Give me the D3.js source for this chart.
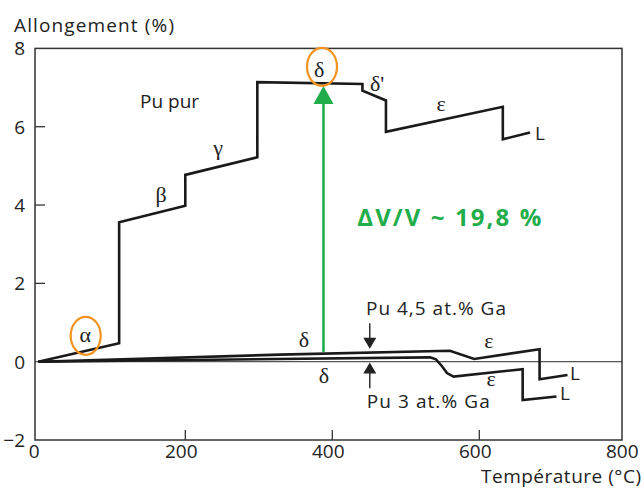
<!DOCTYPE html>
<html lang="fr">
<head>
    <meta charset="UTF-8">
    <title>Allongement du plutonium</title>
    <script src="https://d3js.org/d3.v7.min.js"></script>
    <style>
        body { margin: 0; background: #fff; }
        svg { font-family: "Open Sans", sans-serif; }
        .curve { fill: none; stroke: #1a1a1a; stroke-width: 2.6; stroke-linejoin: miter; }
        .tick-label { font-size: 19px; fill: #222; }
        .greek { font-family: "Liberation Serif", serif; font-size: 22px; fill: #222; }
        .note { font-size: 19px; fill: #222; }
    </style>
</head>
<body>
    <svg width="644" height="488"></svg>
    <script>
        // Pu pur (temperature °C, elongation %)
        const puPurT = [0, 110, 110, 200, 200, 298, 298, 441, 441, 473, 473, 632, 632, 669];
        const puPurA = [0, 0.47, 3.56, 3.98, 4.77, 5.22, 7.14, 7.09, 6.92, 6.67, 5.87, 6.51, 5.68, 5.85];

        // Pu 4,5 at.% Ga
        const pu45T = [0, 329, 560, 593, 682, 682, 720];
        const pu45A = [0, 0.18, 0.28, 0.07, 0.32, -0.45, -0.34];

        // Pu 3 at.% Ga
        const pu3T = [0, 533, 541, 549, 556, 565, 659, 659, 705];
        const pu3A = [0, 0.11, 0.06, -0.11, -0.29, -0.38, -0.19, -0.98, -0.89];

        const xTicks = [0, 200, 400, 600, 800];
        const yTicks = [-2, 0, 2, 4, 6, 8];

        // delta V / V arrow, at the delta transition
        const arrowT = 388;
        const arrowFrom = 0.25;
        const arrowTo = 7.04;

        const green = '#22ad4b';
        const orange = '#f39322';

        const svg = d3.select('svg');

        const x = d3.scaleLinear().domain([0, 800]).range([38.3, 626.3]);
        const y = d3.scaleLinear().domain([-2, 8]).range([440, 48.4]);

        const left = 35, right = 622;

        // zero line
        svg.append('line')
            .attr('x1', left).attr('x2', right)
            .attr('y1', y(0)).attr('y2', y(0))
            .attr('stroke', '#555').attr('stroke-width', 1.2);

        // inner ticks
        svg.selectAll('.ytick')
            .data(yTicks.filter(d => d > -2 && d < 8 && d !== 0))
            .enter().append('line')
            .attr('x1', left).attr('x2', left + 10)
            .attr('y1', d => y(d)).attr('y2', d => y(d))
            .attr('stroke', '#333').attr('stroke-width', 1.3);

        svg.selectAll('.xtick')
            .data(xTicks.filter(d => d > 0 && d < 800))
            .enter().append('line')
            .attr('x1', d => x(d)).attr('x2', d => x(d))
            .attr('y1', y(-2)).attr('y2', y(-2) - 10)
            .attr('stroke', '#333').attr('stroke-width', 1.3);

        // frame
        svg.append('rect')
            .attr('x', left).attr('y', y(8))
            .attr('width', right - left).attr('height', y(-2) - y(8))
            .attr('fill', 'none').attr('stroke', '#333').attr('stroke-width', 1.5);

        // tick labels
        svg.selectAll('.ylab')
            .data(yTicks)
            .enter().append('text')
            .attr('class', 'tick-label')
            .attr('x', 25)
            .attr('y', d => y(d))
            .attr('dy', '0.36em')
            .attr('text-anchor', 'end')
            .text(d => d < 0 ? '\u2212' + Math.abs(d) : d);

        svg.selectAll('.xlab')
            .data(xTicks)
            .enter().append('text')
            .attr('class', 'tick-label')
            .attr('x', d => x(d) - 4)
            .attr('y', 457.5)
            .attr('text-anchor', 'middle')
            .text(d => d);

        svg.append('text')
            .attr('class', 'note')
            .attr('x', 14).attr('y', 31.5)
            .attr('font-size', '20px')
            .attr('textLength', 160)
            .text('Allongement (%)');

        svg.append('text')
            .attr('class', 'note')
            .attr('x', 641).attr('y', 482.5)
            .attr('text-anchor', 'end')
            .attr('font-size', '18px')
            .attr('textLength', 160)
            .text('Température (°C)');

        // curves
        const line = d3.line().x(d => x(d[0])).y(d => y(d[1]));
        const series = [
            d3.zip(puPurT, puPurA),
            d3.zip(pu45T, pu45A),
            d3.zip(pu3T, pu3A)
        ];
        svg.selectAll('.curve')
            .data(series)
            .enter().append('path')
            .attr('class', 'curve')
            .attr('d', line);

        // green arrow
        svg.append('line')
            .attr('x1', x(arrowT)).attr('x2', x(arrowT))
            .attr('y1', y(arrowFrom)).attr('y2', y(arrowTo) + 16)
            .attr('stroke', green).attr('stroke-width', 2.6);
        svg.append('path')
            .attr('d', `M${x(arrowT)},${y(arrowTo)} l10,18 l-20,0 Z`)
            .attr('fill', green);

        svg.append('text')
            .attr('x', x(434)).attr('y', y(3.46))
            .attr('font-size', '24px')
            .attr('font-weight', 'bold')
            .attr('fill', green)
            .attr('textLength', 184)
            .text('\u0394V/V ~ 19,8 %');

        // orange circles
        [[64.5, 0.66], [386, 7.53]].forEach(p => {
            svg.append('ellipse')
                .attr('cx', x(p[0])).attr('cy', y(p[1]))
                .attr('rx', 15).attr('ry', 19)
                .attr('fill', 'none').attr('stroke', orange).attr('stroke-width', 2.2);
        });

        // labels
        const greek = (t, a, s) => svg.append('text')
            .attr('class', 'greek')
            .attr('x', x(t)).attr('y', y(a))
            .attr('text-anchor', 'middle')
            .text(s);

        greek(64, 0.51, 'α');
        greek(167, 4.08, 'β');
        greek(244.5, 5.27, 'γ');
        greek(382, 7.28, 'δ');
        greek(461, 6.9, "δ'");
        greek(548, 6.39, 'ε');
        greek(361.5, 0.38, 'δ');
        greek(388.7, -0.54, 'δ');
        greek(613, 0.35, 'ε');
        greek(616, -0.62, 'ε');

        const note = (t, a, s) => svg.append('text')
            .attr('class', 'note')
            .attr('x', x(t)).attr('y', y(a))
            .text(s);

        note(138.4, 6.47, 'Pu pur').attr('font-size', '20px');
        note(675.8, 5.66, 'L');
        note(723.4, -0.47, 'L');
        note(709.8, -0.98, 'L');
        note(445.8, 1.19, 'Pu 4,5 at.% Ga').attr('textLength', 140);
        note(446.8, -1.19, 'Pu 3 at.% Ga').attr('textLength', 123);

        // small black pointers
        const px = x(451);
        svg.append('line')
            .attr('x1', px).attr('x2', px)
            .attr('y1', y(0.98)).attr('y2', y(0.52))
            .attr('stroke', '#222').attr('stroke-width', 1.4);
        svg.append('path')
            .attr('d', `M${px},${y(0.33)} l-6.5,-11 l13,0 Z`)
            .attr('fill', '#222');
        svg.append('line')
            .attr('x1', px).attr('x2', px)
            .attr('y1', y(-0.68)).attr('y2', y(-0.25))
            .attr('stroke', '#222').attr('stroke-width', 1.4);
        svg.append('path')
            .attr('d', `M${px},${y(-0.02)} l-6.5,11 l13,0 Z`)
            .attr('fill', '#222');
    </script>
</body>
</html>
